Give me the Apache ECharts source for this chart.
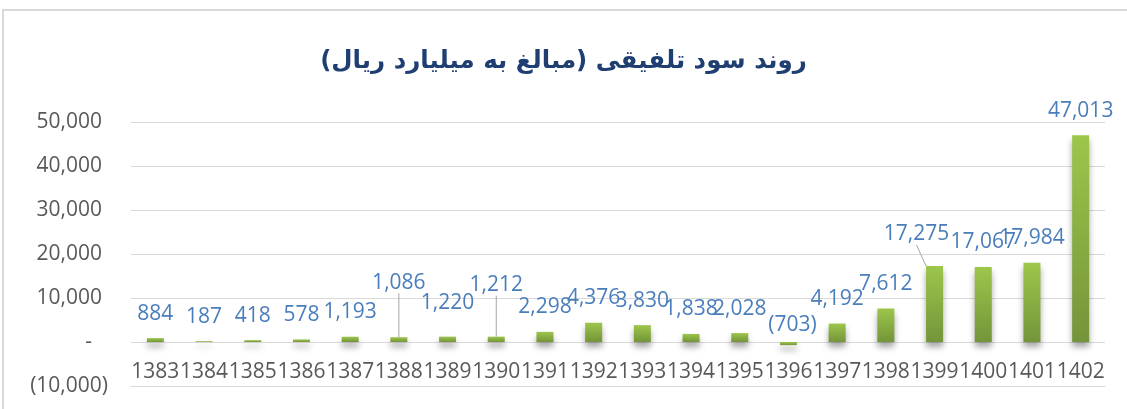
<!DOCTYPE html>
<html>
<head>
<meta charset="utf-8">
<script src="https://cdn.jsdelivr.net/npm/echarts@6/dist/echarts.min.js"></script>
<style>
  html, body { margin: 0; padding: 0; background: #fff; }
  #chart { width: 1127px; height: 409px; }
</style>
</head>
<body>
<div id="chart"></div>
<script>
// Consolidated profit, billion rials, by Iranian fiscal year
const chartTitle = '\u200Fروند سود تلفیقی (مبالغ به میلیارد ریال)\u200F';
const years = ['1383', '1384', '1385', '1386', '1387', '1388', '1389', '1390', '1391', '1392',
               '1393', '1394', '1395', '1396', '1397', '1398', '1399', '1400', '1401', '1402'];
const profit = [884, 187, 418, 578, 1193, 1086, 1220, 1212, 2298, 4376,
                3830, 1838, 2028, -703, 4192, 7612, 17275, 17067, 17984, 47013];
const yMin = -10000;
const yMax = 50000;
const yStep = 10000;

// Labels that sit away from the default spot above their bar (pixel nudges)
const labelNudge = {
  5:  { dx: 0,   dy: -30, line: true },
  6:  { dx: 0,   dy: -9 },
  7:  { dx: 0,   dy: -27, line: true },
  13: { dx: 4,   dy: 8 },
  16: { dx: -18, dy: -7,  line: true }
};

function fmtNum(v) {
  const s = Math.abs(v).toLocaleString('en-US');
  return v < 0 ? '(' + s + ')' : s;
}

const chart = echarts.init(document.getElementById('chart'), null, { renderer: 'canvas' });

const barFill = new echarts.graphic.LinearGradient(0, 0, 0, 1, [
  { offset: 0, color: '#9DC64B' },
  { offset: 1, color: '#74943A' }
]);

const seriesData = profit.map(function (v, i) {
  const n = labelNudge[i];
  const item = { value: v };
  if (n && n.line) {
    item.labelLine = { show: true };
  }
  return item;
});

chart.setOption({
  animation: false,
  backgroundColor: '#ffffff',
  graphic: [{
    type: 'rect',
    silent: true,
    z: -10,
    shape: { x: 3, y: 10, width: 1200, height: 500 },
    style: { fill: 'none', stroke: '#D9D9D9', lineWidth: 2 }
  }],
  title: {
    text: chartTitle,
    left: 'center',
    top: 44,
    textStyle: {
      fontFamily: 'DejaVu Sans',
      fontWeight: 'bold',
      fontSize: 24.5,
      color: '#1F3F73'
    }
  },
  grid: { left: 131, right: 22, top: 122, bottom: 23, outerBoundsMode: 'none', containLabel: false },
  xAxis: {
    type: 'category',
    data: years,
    axisTick: { show: false },
    axisLine: { show: true, onZero: false, lineStyle: { color: '#D9D9D9', width: 1.2 } },
    axisLabel: {
      inside: true,
      interval: 0,
      margin: 3,
      color: '#595959',
      fontFamily: 'Open Sans',
      fontSize: 21,
      hideOverlap: false
    }
  },
  yAxis: {
    type: 'value',
    min: yMin,
    max: yMax,
    interval: yStep,
    axisLine: { show: false },
    axisTick: { show: false },
    splitLine: { lineStyle: { color: '#D9D9D9', width: 1.2 } },
    axisLabel: {
      margin: 23,
      color: '#595959',
      fontFamily: 'Open Sans',
      fontSize: 21,
      formatter: function (v) {
        if (v === 0) return '{z|-}';
        if (v > 0) return '{p|' + fmtNum(v) + '}';
        return fmtNum(v);
      },
      rich: {
        p: { color: '#595959', fontFamily: 'Open Sans', fontSize: 21, padding: [0, 6, 0, 0] },
        z: { color: '#595959', fontFamily: 'Open Sans', fontSize: 21, padding: [0, 16, 0, 0] }
      }
    }
  },
  series: [{
    type: 'bar',
    data: seriesData,
    barWidth: 17,
    itemStyle: {
      color: barFill,
      shadowBlur: 6,
      shadowOffsetY: 5,
      shadowColor: 'rgba(0,0,0,0.35)'
    },
    label: {
      show: true,
      position: 'top',
      distance: 14,
      color: '#4A7EBB',
      fontFamily: 'Open Sans',
      fontSize: 21,
      formatter: function (p) { return fmtNum(p.value); }
    },
    labelLine: {
      show: false,
      lineStyle: { color: '#A5A5A5', width: 1 }
    },
    labelLayout: function (params) {
      const n = labelNudge[params.dataIndex];
      return n ? { dx: n.dx, dy: n.dy } : {};
    }
  }]
});
</script>
</body>
</html>
